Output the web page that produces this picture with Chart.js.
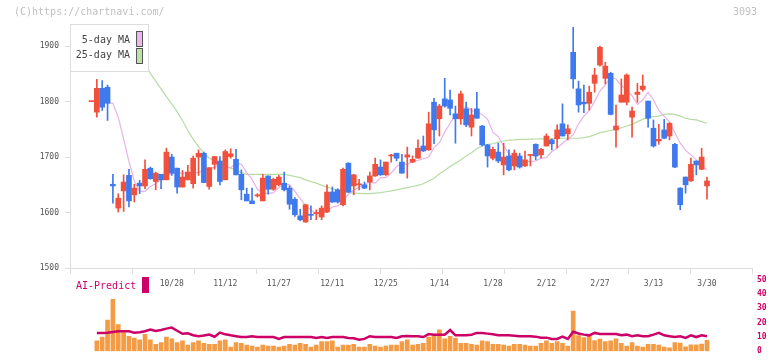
<!DOCTYPE html>
<html><head><meta charset="utf-8">
<script src="https://cdn.jsdelivr.net/npm/chart.js@4.4.1/dist/chart.umd.min.js"></script>
<style>
html,body{margin:0;padding:0;background:#fff;}
#wrap{position:relative;width:772px;height:361px;overflow:hidden;font-family:'DejaVu Sans Mono',monospace;}
canvas{position:absolute;left:0;}
#cA{top:0;}
#cB{top:270px;}
.t{position:absolute;font-size:10px;line-height:12px;white-space:pre;}
#leg{position:absolute;left:70px;top:24px;width:79px;height:48px;box-sizing:border-box;border:1px solid #dddddd;background:#fff;}
.sw{position:absolute;width:7px;height:16px;box-sizing:border-box;border:1px solid #555;}
</style></head><body>
<div id="wrap">
<canvas id="cA" width="772" height="300"></canvas>
<canvas id="cB" width="772" height="91"></canvas>
<div class="t" style="left:14px;top:6px;color:#c0c0c0">(C)https://chartnavi.com/</div>
<div class="t" style="left:733px;top:6px;color:#c0c0c0">3093</div>
<div id="leg"></div>
<div class="t" style="left:0;width:130px;text-align:right;top:34px;color:#444">5-day MA</div>
<div class="t" style="left:0;width:130px;text-align:right;top:48.5px;color:#444">25-day MA</div>
<div class="sw" style="left:136px;top:31px;background:#eab8ea"></div>
<div class="sw" style="left:136px;top:48px;background:#bde0ad"></div>
<div class="t" style="left:76px;top:280px;color:#cc0066">AI-Predict</div>
<div style="position:absolute;left:142px;top:277px;width:7px;height:16px;background:#cc0066"></div>
</div>
<script>
// ---- data ----
const tickLabels = ['10/28','11/12','11/27','12/11','12/25','1/14','1/28','2/12','2/27','3/13','3/30'];
const tickIdx = [15,25,35,45,55,65,75,85,95,105,115];
const open = [1800,1781,1824,1826,1651,1608,1639,1667,1632,1653,1648,1680,1656,1669,1659,1700,1680,1646,1659,1652,
1700,1707,1647,1687,1693,1659,1701,1696,1669,1633,1621,1630,1621,1666,1642,1650,1653,1644,1624,1594,
1583,1596,1598,1592,1601,1637,1641,1614,1689,1648,1650,1650,1655,1666,1682,1668,1702,1707,1691,1700,
1691,1698,1720,1713,1799,1769,1805,1803,1778,1769,1787,1754,1787,1756,1722,1698,1709,1686,1702,1684,
1702,1684,1703,1723,1704,1720,1731,1733,1760,1742,1889,1823,1799,1797,1833,1866,1842,1851,1749,1799,
1799,1772,1813,1822,1801,1752,1729,1749,1738,1723,1644,1664,1657,1693,1678,1648];
const close = [1800,1824,1790,1797,1648,1626,1655,1621,1644,1648,1678,1661,1671,1659,1709,1671,1646,1664,1673,1698,
1707,1654,1681,1701,1656,1710,1706,1668,1641,1621,1616,1632,1662,1642,1660,1664,1641,1615,1596,1587,
1614,1595,1600,1608,1637,1619,1619,1678,1637,1668,1651,1644,1666,1687,1668,1691,1703,1698,1671,1704,
1696,1716,1711,1760,1749,1792,1792,1788,1769,1814,1758,1776,1770,1722,1702,1714,1693,1700,1677,1707,
1682,1695,1704,1702,1714,1738,1724,1749,1738,1751,1841,1794,1796,1817,1848,1898,1864,1777,1756,1812,
1848,1783,1817,1828,1770,1720,1732,1734,1761,1682,1614,1650,1687,1686,1700,1657];
const high = [1800,1840,1838,1830,1669,1634,1668,1678,1651,1658,1695,1682,1673,1669,1716,1705,1680,1676,1685,1702,
1713,1709,1681,1701,1701,1713,1715,1714,1677,1644,1644,1634,1669,1666,1662,1667,1673,1648,1627,1606,
1615,1612,1605,1612,1650,1646,1643,1680,1690,1669,1660,1655,1673,1698,1695,1691,1705,1707,1705,1718,
1702,1731,1738,1781,1806,1795,1842,1821,1792,1819,1799,1788,1817,1757,1723,1718,1725,1725,1713,1713,
1707,1711,1705,1724,1716,1742,1733,1758,1796,1758,1934,1837,1830,1828,1860,1900,1871,1853,1794,1841,
1850,1790,1833,1848,1801,1767,1759,1768,1762,1725,1645,1664,1698,1693,1716,1664];
const low = [1800,1772,1784,1766,1617,1601,1602,1610,1619,1634,1643,1660,1641,1643,1659,1667,1635,1646,1659,1644,
1667,1654,1642,1678,1650,1659,1698,1668,1623,1621,1616,1628,1621,1633,1640,1648,1639,1606,1593,1585,
1582,1587,1587,1587,1600,1618,1617,1612,1636,1632,1641,1643,1641,1665,1667,1667,1691,1693,1671,1662,
1690,1698,1710,1712,1724,1738,1790,1776,1725,1759,1755,1738,1770,1720,1682,1695,1690,1668,1675,1677,
1680,1683,1684,1695,1698,1720,1713,1716,1738,1731,1824,1781,1780,1785,1817,1864,1832,1776,1718,1799,
1794,1736,1799,1819,1754,1718,1723,1733,1731,1681,1605,1635,1656,1668,1677,1624];
const ma5 = [null,null,null,1798,1797,1772,1733,1692,1657,1638,1638,1647,1652,1660,1667,1670,1671,1671,1671,1672,
1672,1676,1679,1682,1687,1681,1681,1689,1687,1672,1660,1642,1635,1634,1636,1645,1652,1650,1638,1625,
1612,1605,1598,1597,1602,1610,1612,1620,1633,1640,1646,1650,1655,1653,1663,1663,1671,1683,1689,1686,
1693,1694,1697,1700,1717,1726,1745,1761,1776,1778,1791,1784,1781,1777,1768,1745,1737,1720,1706,1697,
1698,1692,1692,1693,1698,1699,1710,1716,1725,1733,1740,1760,1774,1784,1800,1819,1830,1844,1841,1829,
1821,1811,1795,1803,1817,1803,1784,1774,1763,1744,1725,1712,1704,1695,1684,1677];
const ma25 = [null,null,null,null,null,null,null,null,1895,1880,1866,1851,1837,1823,1809,1796,1782,1766,1748,1732,
1719,1707,1698,1694,1689,1685,1680,1677,1672,1669,1669,1669,1669,1669,1669,1669,1669,1667,1665,1663,
1659,1656,1653,1649,1646,1643,1640,1638,1636,1635,1634.5,1634,1634,1635,1636,1637.5,1639,1641,1643,1645,
1647,1649,1652,1657,1662,1670,1676,1683,1689,1695,1702,1708,1715,1720,1723,1724,1727,1729,1730.6,1731,
1732,1732,1732.3,1732.6,1732.8,1733,1733,1733.5,1734,1734,1734,1734,1735,1737,1740,1744,1746,1748,1750,1753,
1756,1759,1764,1768,1772,1773,1774,1777,1778,1777,1774,1770,1768,1767,1764,1761];
const volume = [null,7.3,9.9,21.8,36.3,18.7,13,10.5,9.2,8,11.8,8,4.8,6.1,9.9,8.6,6.1,7.3,4.2,6.1,
7.3,5.5,4.8,4.8,7.3,8,2.9,6.1,5.5,4.2,3.6,2.9,4.2,3.6,3.6,2.9,3.6,4.8,4.2,5.5,
4.8,2.9,4.2,6.7,6.7,7.3,2.9,4.2,4.2,4.8,2.9,2.9,4.8,3.6,2.9,3.6,4.2,4.2,6.7,8,
4.2,4.8,5.5,9.9,11.1,14.9,8.6,10.5,9.2,5.5,5.5,4.8,4.2,7.3,6.7,4.8,4.8,4.2,3.6,4.8,
4.8,4.2,3.6,3.6,5.5,7.3,5.5,6.7,5.5,3.6,28.1,11,9.5,10.5,7.5,8.5,6.7,7.3,8.6,5.5,
3.6,6.1,3.6,2.9,4.8,4.8,4.2,2.9,2.4,6.1,5.7,3.1,4.4,4.4,5.0,7.6];
const aiPredict = [null,12.8,12.8,13.0,13.5,14.0,14.0,14.0,13.0,13.3,14.0,15.2,14.2,14.8,15.8,16.5,14.3,12.2,12.6,11.2,
10.5,11.0,11.6,10.1,13.0,11.8,11.1,10.5,9.9,9.9,10.5,9.9,9.9,9.9,9.9,8.6,9.9,9.9,9.9,9.9,
9.9,9.9,9.3,9.9,9.3,9.9,9.9,9.9,9.3,9.0,8.0,8.6,10.5,10.0,9.9,9.9,9.9,9.3,10.5,10.7,
10.5,10.5,9.9,12.0,11.6,11.6,11.6,14.8,11.1,11.1,11.1,11.5,12.8,12.8,12.3,11.8,11.2,11.1,11.1,10.8,
10.5,10.5,10.5,10.2,9.5,9.5,8.6,8.6,10.2,8.6,13.6,12.4,11.6,11.1,12.8,12.1,12.1,12.1,12.1,11.2,
11.6,10.5,11.1,10.5,10.5,11.6,12.8,11.1,10.5,9.9,10.5,9.3,11.1,9.9,11.1,10.5];

// ---- chart ----
Chart.defaults.font.family = "'DejaVu Sans Mono', monospace";
const XMIN = -4.017, XMAX = 123.41;
const UP = '#f0503c', DN = '#3f79ee';
const idx = open.map((_, i) => i);
const colors = idx.map(i => close[i] >= open[i] ? UP : DN);
const pts = arr => arr.map((v, i) => ({x: i, y: v}));

new Chart(document.getElementById('cA'), {
  type: 'bar',
  data: { datasets: [
    {type:'line', label:'5-day MA', data: pts(ma5), borderColor:'#e8b2e8', borderWidth:1.2, pointRadius:0, tension:0, xAxisID:'x', yAxisID:'y', order:3},
    {type:'line', label:'25-day MA', data: pts(ma25), borderColor:'#b6dca4', borderWidth:1.2, pointRadius:0, tension:0, xAxisID:'x', yAxisID:'y', order:4},
    {type:'bar', label:'wick', data: idx.map(i => ({x:i, y:[low[i], high[i]]})), backgroundColor: colors, barThickness:1, grouped:false, xAxisID:'x', yAxisID:'y', order:2},
    {type:'bar', label:'body', data: idx.map(i => ({x:i, y:[open[i], close[i]]})), backgroundColor: colors, barThickness:5, minBarLength:1, grouped:false, xAxisID:'x', yAxisID:'y', order:1}
  ]},
  options: {
    responsive:false, animation:false, devicePixelRatio:1,
    layout:{padding:{left:0, right:20, top:24, bottom:6}},
    plugins:{legend:{display:false}, tooltip:{enabled:false}},
    scales:{
      x:{type:'linear', position:'bottom', min:XMIN, max:XMAX, weight:1, offset:false,
         grid:{display:false, drawTicks:false, offset:false}, border:{display:false},
         afterBuildTicks: s => { s.ticks = tickIdx.map(v => ({value:v})); },
         afterFit: s => { s.height = 20; },
         ticks:{autoSkip:false, maxRotation:0, padding:5, color:'#555', font:{size:8},
                callback:(v, i) => tickLabels[i]}},
      xt:{type:'linear', position:'bottom', min:0, max:11, weight:0, offset:false,
          grid:{display:true, drawOnChartArea:false, drawTicks:true, tickLength:6, color:'#dddddd', offset:false},
          border:{display:true, color:'#dddddd'},
          afterFit: s => { s.height = 6; },
          ticks:{display:false, stepSize:1}},
      y:{type:'linear', position:'left', min:1500, max:1940,
         grid:{drawOnChartArea:false, drawTicks:true, tickLength:5, color:'#dddddd'},
         border:{display:true, color:'#dddddd'},
         afterFit: s => { s.width = 70; },
         ticks:{stepSize:100, includeBounds:false, padding:6, color:'#555', font:{size:8},
                callback: v => String(v)}}
    }
  }
});

new Chart(document.getElementById('cB'), {
  type: 'bar',
  data: { datasets: [
    {type:'line', label:'AI-Predict', data: pts(aiPredict), borderColor:'#cc0066', borderWidth:2.5, pointRadius:0, tension:0, xAxisID:'x', yAxisID:'v', order:1},
    {type:'bar', label:'volume', data: pts(volume), backgroundColor:'#f39b45', barThickness:4, grouped:false, xAxisID:'x', yAxisID:'v', order:2}
  ]},
  options: {
    responsive:false, animation:false, devicePixelRatio:1,
    layout:{padding:{left:70, right:0, top:8.3, bottom:2.5}},
    plugins:{legend:{display:false}, tooltip:{enabled:false}},
    scales:{
      x:{type:'linear', min:XMIN, max:XMAX, display:false, offset:false, grid:{offset:false}},
      v:{type:'linear', position:'right', min:0, max:50,
         grid:{display:false, drawTicks:false}, border:{display:false},
         afterFit: s => { s.width = 20; },
         ticks:{stepSize:10, padding:5, color:'#cc0066', font:{size:8, weight:'bold'}}}
    }
  }
});
</script>
</body></html>
